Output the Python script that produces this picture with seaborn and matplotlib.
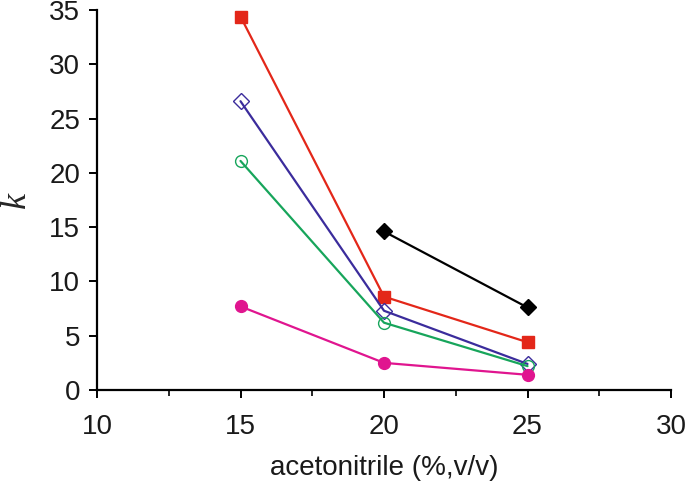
import matplotlib
matplotlib.use("Agg")
import matplotlib.pyplot as plt
import pandas as pd
import seaborn as sns
from matplotlib.ticker import MultipleLocator

# values
acn = [15, 20, 25]
acn_short = [20, 25]
k_red = [34.4, 8.6, 4.4]
k_blue = [26.6, 7.3, 2.4]
k_green = [21.1, 6.2, 2.2]
k_magenta = [7.7, 2.5, 1.4]
k_black = [14.6, 7.6]

sns.set_style("ticks")
plt.rcParams['font.family'] = ['Liberation Sans', 'DejaVu Sans']

fig = plt.figure(figsize=(6.85, 4.91), dpi=100)
ax = fig.add_axes([0.1416, 0.2057, 0.838, 0.7739])

series = [
    (acn, k_red, "#e32719", "s", True, 9.0),
    (acn, k_blue, "#3b2c9c", "D", False, 8.5),
    (acn, k_green, "#17a55b", "o", False, 8.5),
    (acn, k_magenta, "#e0158f", "o", True, 8.5),
    (acn_short, k_black, "#000000", "D", True, 8.0),
]
for xs, ys, col, mk, filled, ms in series:
    sns.lineplot(x=xs, y=ys, ax=ax, color=col, linewidth=1.6, marker=mk,
                 markersize=ms, markeredgecolor=col, markeredgewidth=1.0,
                 markerfacecolor=col if filled else "none", clip_on=False)

ax.set_xlim(10, 30)
ax.set_ylim(0, 35)
ax.xaxis.set_major_locator(MultipleLocator(5))
ax.xaxis.set_minor_locator(MultipleLocator(2.5))
ax.yaxis.set_major_locator(MultipleLocator(5))
sns.despine(ax=ax)
for s in ["left", "bottom"]:
    ax.spines[s].set_linewidth(1.6)
    ax.spines[s].set_color("black")
ax.tick_params(axis="both", which="major", direction="out", length=6, width=1.4,
               labelsize=20, colors="black", labelcolor="#1a1a1a")
ax.tick_params(axis="x", which="major", pad=11)
ax.tick_params(axis="y", which="major", pad=6)
ax.tick_params(axis="x", which="minor", direction="out", length=4, width=1.4)

ax.set_xlabel("acetonitrile (%,v/v)", fontsize=20, labelpad=11, color="#1a1a1a")
ax.set_ylabel("k", fontsize=26, family="Liberation Serif", style="italic",
              rotation=90, labelpad=12)

fig.savefig("out.png", dpi=100)
